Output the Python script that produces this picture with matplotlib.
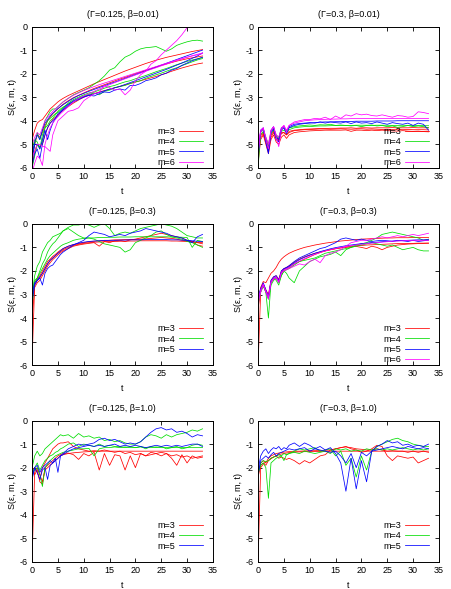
import matplotlib
matplotlib.use('Agg')
from matplotlib import pyplot as plt

plt.rcParams['font.family'] = ['Liberation Sans', 'DejaVu Sans']
plt.rcParams['font.size'] = 6.5
plt.rcParams['axes.unicode_minus'] = False

# common time grid
T = [0, 0.5, 1, 1.5, 2, 2.5, 3, 3.5, 4, 4.5, 5, 5.5, 6,
     7, 8, 9, 10, 11, 12, 13, 14, 15, 16, 17, 18, 19, 20,
     21, 22, 23, 24, 25, 26, 27, 28, 29, 30, 31, 32, 33]

titles = ['(\u0393=0.125, \u03b2=0.01)', '(\u0393=0.3, \u03b2=0.01)',
          '(\u0393=0.125, \u03b2=0.3)', '(\u0393=0.3, \u03b2=0.3)',
          '(\u0393=0.125, \u03b2=1.0)', '(\u0393=0.3, \u03b2=1.0)']

# panel 1: Gamma=0.125, beta=0.01
p1_m3 = [
    [-4.8, -4.4, -4.1, -4.0, -3.95, -3.8, -3.65, -3.5, -3.4, -3.3, -3.2, -3.12, -3.05,
     -2.93, -2.83, -2.73, -2.63, -2.53, -2.43, -2.34, -2.25, -2.16, -2.07, -1.98, -1.89, -1.81, -1.73,
     -1.65, -1.57, -1.5, -1.43, -1.37, -1.31, -1.26, -1.21, -1.16, -1.11, -1.06, -1.02, -0.98],
    [-5.9, -5.3, -5.0, -5.1, -5.0, -4.6, -4.3, -4.1, -3.95, -3.85, -3.75, -3.65, -3.55,
     -3.4, -3.25, -3.12, -3.0, -2.92, -2.85, -2.78, -2.72, -2.66, -2.6, -2.54, -2.48, -2.42, -2.36,
     -2.3, -2.24, -2.18, -2.12, -2.05, -1.98, -1.9, -1.83, -1.76, -1.7, -1.64, -1.59, -1.55],
    [-5.5, -5.0, -4.6, -4.7, -4.5, -4.2, -4.0, -3.85, -3.7, -3.6, -3.5, -3.4, -3.3,
     -3.15, -3.02, -2.92, -2.82, -2.72, -2.63, -2.55, -2.47, -2.39, -2.31, -2.23, -2.16, -2.08, -2.0,
     -1.93, -1.86, -1.79, -1.72, -1.65, -1.59, -1.53, -1.47, -1.42, -1.37, -1.33, -1.29, -1.25],
]
p1_m4 = [
    [-5.6, -5.0, -4.5, -4.8, -4.4, -4.0, -3.8, -3.6, -3.5, -3.5, -3.4, -3.3, -3.2,
     -3.05, -2.9, -2.8, -2.7, -2.6, -2.45, -2.3, -2.1, -1.85, -1.75, -1.5, -1.3, -1.2, -1.05,
     -0.95, -0.9, -0.88, -0.85, -0.95, -1.05, -0.95, -0.8, -0.72, -0.65, -0.6, -0.58, -0.62],
    [-6.0, -5.5, -5.0, -5.1, -4.9, -4.3, -4.0, -3.9, -3.8, -3.7, -3.65, -3.55, -3.45,
     -3.25, -3.1, -3.0, -2.9, -2.82, -2.78, -2.7, -2.62, -2.55, -2.5, -2.42, -2.35, -2.3, -2.22,
     -2.15, -2.08, -2.0, -1.92, -1.85, -1.78, -1.7, -1.62, -1.55, -1.48, -1.42, -1.37, -1.32],
    [-5.2, -4.8, -4.9, -5.2, -4.6, -4.3, -4.2, -4.0, -3.9, -3.75, -3.6, -3.5, -3.42,
     -3.3, -3.18, -3.05, -2.95, -2.88, -2.82, -2.9, -2.75, -2.7, -2.6, -2.55, -2.5, -2.42, -2.35,
     -2.3, -2.2, -2.12, -2.05, -1.98, -1.9, -1.82, -1.75, -1.66, -1.58, -1.5, -1.42, -1.36],
]
p1_m5 = [
    [-5.7, -5.0, -5.0, -5.2, -4.8, -4.4, -4.8, -4.4, -4.1, -3.9, -3.8, -3.65, -3.55,
     -3.35, -3.2, -3.1, -3.0, -2.92, -2.86, -2.8, -2.73, -2.66, -2.6, -2.54, -2.46, -2.38, -2.3,
     -2.22, -2.14, -2.06, -1.98, -1.9, -1.82, -1.73, -1.64, -1.55, -1.45, -1.35, -1.25, -1.12],
    [-5.9, -5.4, -5.2, -5.6, -5.0, -4.6, -4.3, -4.1, -4.0, -3.9, -3.7, -3.6, -3.5,
     -3.3, -3.15, -3.05, -2.97, -2.92, -2.95, -2.85, -2.78, -2.8, -2.7, -2.65, -2.7, -2.5, -2.5,
     -2.42, -2.3, -2.25, -2.18, -2.05, -1.98, -1.85, -1.78, -1.65, -1.55, -1.45, -1.38, -1.3],
    [-5.4, -4.9, -4.6, -4.8, -4.4, -4.1, -3.95, -3.8, -3.68, -3.58, -3.48, -3.4, -3.32,
     -3.18, -3.04, -2.93, -2.84, -2.75, -2.67, -2.59, -2.51, -2.43, -2.36, -2.28, -2.2, -2.12, -2.04,
     -1.96, -1.88, -1.8, -1.72, -1.64, -1.56, -1.48, -1.4, -1.32, -1.24, -1.16, -1.08, -1.0],
]
p1_m6 = [
    [-5.5, -5.3, -5.0, -5.0, -5.1, -5.1, -5.2, -5.3, -4.6, -4.3, -4.0, -3.9, -3.8,
     -3.6, -3.55, -3.45, -3.15, -3.0, -2.85, -2.8, -2.5, -2.6, -2.7, -2.65, -2.9, -2.7, -2.3,
     -2.05, -1.9, -1.6, -1.45, -1.2, -1.0, -0.8, -0.6, -0.35, -0.05, 0.2, 0.4, 0.6],
    [-6.2, -5.8, -5.5, -5.6, -5.9, -5.0, -4.6, -4.3, -4.1, -3.95, -3.82, -3.7, -3.6,
     -3.4, -3.2, -3.05, -2.95, -2.85, -2.75, -2.65, -2.56, -2.47, -2.38, -2.3, -2.22, -2.14, -2.06,
     -1.98, -1.9, -1.82, -1.75, -1.67, -1.6, -1.52, -1.45, -1.38, -1.31, -1.25, -1.2, -1.15],
    [-5.0, -4.7, -4.5, -4.6, -4.3, -4.0, -3.85, -3.72, -3.6, -3.5, -3.4, -3.3, -3.2,
     -3.05, -2.92, -2.82, -2.72, -2.63, -2.55, -2.47, -2.4, -2.33, -2.26, -2.19, -2.12, -2.05, -1.98,
     -1.91, -1.84, -1.77, -1.7, -1.63, -1.56, -1.49, -1.42, -1.36, -1.3, -1.24, -1.18, -1.12],
]

# panel 2: Gamma=0.3, beta=0.01
p2_m3 = [
    [-5.3, -4.6, -4.5, -4.8, -5.1, -4.6, -4.45, -4.7, -4.8, -4.5, -4.5, -4.6, -4.45,
     -4.4, -4.38, -4.36, -4.35, -4.34, -4.33, -4.33, -4.32, -4.32, -4.31, -4.31, -4.3, -4.32, -4.3,
     -4.3, -4.31, -4.3, -4.3, -4.3, -4.29, -4.3, -4.3, -4.3, -4.29, -4.3, -4.3, -4.3],
    [-5.8, -4.8, -4.6, -5.0, -5.4, -4.8, -4.6, -4.9, -5.0, -4.7, -4.6, -4.75, -4.6,
     -4.5, -4.47, -4.45, -4.43, -4.42, -4.41, -4.4, -4.4, -4.4, -4.4, -4.39, -4.45, -4.4, -4.4,
     -4.42, -4.4, -4.42, -4.4, -4.42, -4.43, -4.44, -4.42, -4.44, -4.45, -4.44, -4.46, -4.47],
    [-5.5, -4.7, -4.55, -4.9, -5.2, -4.7, -4.5, -4.75, -4.85, -4.55, -4.5, -4.6, -4.5,
     -4.42, -4.4, -4.38, -4.37, -4.36, -4.35, -4.35, -4.36, -4.35, -4.34, -4.35, -4.36, -4.35, -4.34,
     -4.36, -4.35, -4.36, -4.37, -4.36, -4.37, -4.36, -4.38, -4.37, -4.38, -4.38, -4.38, -4.39],
]
p2_m4 = [
    [-6.0, -4.5, -4.35, -4.7, -5.0, -4.45, -4.3, -4.6, -4.7, -4.35, -4.3, -4.45, -4.3,
     -4.25, -4.22, -4.2, -4.18, -4.2, -4.17, -4.18, -4.15, -4.2, -4.18, -4.2, -4.22, -4.2, -4.25,
     -4.2, -4.18, -4.22, -4.2, -4.25, -4.22, -4.28, -4.25, -4.2, -4.25, -4.22, -4.25, -4.3],
    [-5.4, -4.6, -4.45, -4.8, -5.1, -4.55, -4.4, -4.65, -4.75, -4.45, -4.4, -4.5, -4.38,
     -4.3, -4.27, -4.25, -4.25, -4.23, -4.22, -4.22, -4.21, -4.2, -4.2, -4.2, -4.2, -4.19, -4.19,
     -4.19, -4.2, -4.19, -4.19, -4.19, -4.2, -4.2, -4.19, -4.2, -4.2, -4.2, -4.21, -4.21],
]
p2_m5 = [
    [-5.6, -4.4, -4.3, -4.8, -5.3, -4.4, -4.25, -4.7, -4.8, -4.3, -4.25, -4.5, -4.25,
     -4.15, -4.12, -4.1, -4.08, -4.1, -4.05, -4.1, -4.05, -4.08, -4.1, -4.05, -4.12, -4.05, -4.1,
     -4.08, -4.12, -4.05, -4.1, -4.15, -4.08, -4.12, -4.15, -4.1, -4.2, -4.1, -4.15, -4.4],
    [-5.2, -4.45, -4.35, -4.9, -5.4, -4.5, -4.35, -4.8, -4.9, -4.4, -4.3, -4.55, -4.3,
     -4.2, -4.15, -4.12, -4.1, -4.08, -4.06, -4.05, -4.05, -4.04, -4.04, -4.03, -4.03, -4.02, -4.02,
     -4.02, -4.02, -4.01, -4.01, -4.01, -4.01, -4.0, -4.0, -4.0, -4.0, -4.0, -4.0, -4.0],
]
p2_m6 = [
    [-5.4, -4.5, -4.3, -4.8, -5.2, -4.45, -4.25, -4.7, -5.1, -4.4, -4.2, -4.5, -4.2,
     -4.05, -4.0, -3.95, -3.95, -3.9, -3.92, -3.85, -3.95, -3.8, -3.9, -3.75, -3.8, -3.7, -3.75,
     -3.72, -3.78, -3.8, -3.75, -3.8, -3.85, -3.78, -3.8, -3.85, -3.82, -3.62, -3.65, -3.7],
    [-5.0, -4.4, -4.3, -4.7, -5.0, -4.4, -4.25, -4.6, -4.7, -4.3, -4.2, -4.4, -4.2,
     -4.1, -4.05, -4.0, -3.98, -3.96, -3.95, -3.94, -3.93, -3.93, -3.92, -3.92, -3.91, -3.91, -3.91,
     -3.9, -3.9, -3.9, -3.9, -3.9, -3.9, -3.9, -3.9, -3.9, -3.9, -3.9, -3.9, -3.9],
]

# panel 3: Gamma=0.125, beta=0.3
p3_m3 = [
    [-5.8, -2.6, -2.4, -2.3, -2.1, -1.9, -1.7, -1.55, -1.45, -1.35, -1.25, -1.18, -1.1,
     -1.0, -0.92, -0.87, -0.83, -0.8, -0.78, -0.77, -0.76, -0.75, -0.75, -0.74, -0.74, -0.73, -0.73,
     -0.72, -0.72, -0.72, -0.72, -0.72, -0.72, -0.73, -0.73, -0.74, -0.75, -0.77, -0.79, -0.8],
    [-4.0, -2.7, -2.5, -2.4, -2.2, -2.0, -1.8, -1.65, -1.52, -1.42, -1.32, -1.23, -1.15,
     -1.05, -0.95, -0.9, -0.86, -0.83, -0.8, -0.95, -0.75, -0.8, -0.72, -0.7, -0.75, -0.68, -0.65,
     -0.6, -0.55, -0.5, -0.45, -0.4, -0.45, -0.5, -0.55, -0.6, -0.7, -0.75, -0.9, -0.95],
    [-3.2, -2.5, -2.35, -2.2, -2.0, -1.8, -1.6, -1.5, -1.38, -1.3, -1.2, -1.12, -1.05,
     -0.95, -0.88, -0.84, -0.8, -0.76, -0.74, -0.72, -0.7, -0.7, -0.68, -0.68, -0.67, -0.66, -0.66,
     -0.65, -0.64, -0.62, -0.6, -0.58, -0.6, -0.62, -0.65, -0.7, -0.72, -0.75, -0.8, -0.85],
]
p3_m4 = [
    [-3.0, -2.2, -1.8, -1.6, -1.2, -1.0, -0.8, -0.7, -0.55, -0.5, -0.45, -0.4, -0.3,
     -0.15, -0.05, -0.05, 0.0, -0.05, -0.15, -0.05, 0.0, -0.2, -0.5, -0.4, -0.35, -0.4, -0.3,
     -0.2, -0.15, -0.1, -0.05, 0.0, -0.05, -0.1, -0.2, -0.35, -0.5, -0.55, -0.6, -0.6],
    [-2.8, -2.5, -2.3, -2.0, -1.7, -1.5, -1.2, -1.0, -0.85, -0.75, -0.6, -0.45, -0.3,
     -0.2, -0.35, -0.5, -0.6, -0.6, -0.65, -0.75, -0.85, -0.9, -0.95, -1.0, -1.2, -1.1, -0.8,
     -0.7, -0.6, -0.5, -0.35, -0.3, -0.45, -0.55, -0.6, -0.65, -0.75, -0.8, -0.9, -1.0],
    [-3.5, -2.4, -2.3, -2.1, -1.9, -1.7, -1.5, -1.35, -1.25, -1.15, -1.05, -0.95, -0.88,
     -0.8, -0.7, -0.65, -0.62, -0.6, -0.6, -0.58, -0.58, -0.57, -0.57, -0.56, -0.56, -0.56, -0.55,
     -0.55, -0.55, -0.55, -0.55, -0.55, -0.55, -0.56, -0.56, -0.57, -0.58, -1.0, -0.7, -0.75],
]
p3_m5 = [
    [-3.0, -2.5, -2.4, -2.3, -2.6, -2.1, -1.9, -1.8, -1.75, -1.6, -1.45, -1.3, -1.2,
     -1.05, -0.9, -0.8, -0.7, -0.5, -0.35, -0.4, -0.45, -0.55, -0.5, -0.45, -0.5, -0.4, -0.35,
     -0.3, -0.2, -0.25, -0.3, -0.35, -0.4, -0.5, -0.55, -0.6, -0.7, -0.8, -0.55, -0.45],
    [-3.3, -2.6, -2.4, -2.25, -2.1, -1.9, -1.7, -1.55, -1.45, -1.35, -1.25, -1.15, -1.05,
     -0.95, -0.88, -0.82, -0.78, -0.75, -0.73, -0.72, -0.71, -0.7, -0.7, -0.69, -0.69, -0.68, -0.68,
     -0.68, -0.67, -0.67, -0.67, -0.67, -0.67, -0.68, -0.68, -0.69, -0.7, -0.72, -0.74, -0.76],
]

# panel 4: Gamma=0.3, beta=0.3
p4_m3 = [
    [-3.3, -2.7, -2.45, -2.5, -2.3, -2.1, -2.0, -1.85, -1.65, -1.5, -1.4, -1.32, -1.25,
     -1.15, -1.07, -1.0, -0.95, -0.9, -0.86, -0.82, -0.79, -0.76, -0.73, -0.71, -0.69, -0.67, -0.65,
     -0.64, -0.63, -0.62, -0.61, -0.6, -0.6, -0.59, -0.59, -0.59, -0.58, -0.58, -0.58, -0.58],
    [-6.0, -2.9, -2.6, -2.9, -3.1, -2.5, -2.35, -2.3, -2.45, -2.1, -1.95, -1.9, -1.85,
     -1.7, -1.6, -1.5, -1.4, -1.3, -1.22, -1.15, -1.1, -1.05, -1.02, -1.0, -0.98, -0.96, -1.0,
     -1.05, -0.95, -1.0, -1.1, -1.0, -0.95, -0.9, -0.88, -0.86, -0.85, -0.84, -0.83, -0.82],
    [-3.6, -2.85, -2.55, -2.8, -3.0, -2.4, -2.25, -2.2, -2.35, -2.0, -1.9, -1.85, -1.78,
     -1.62, -1.5, -1.4, -1.32, -1.25, -1.2, -1.15, -1.1, -1.06, -1.02, -0.98, -0.95, -0.93, -0.92,
     -0.9, -0.89, -0.88, -0.87, -0.86, -0.85, -0.84, -0.84, -0.83, -0.83, -0.82, -0.82, -0.82],
]
p4_m4 = [
    [-3.2, -2.8, -2.6, -2.9, -4.0, -2.5, -2.3, -2.4, -2.6, -2.2, -2.0, -2.1, -2.3,
     -2.5, -2.0, -1.8, -1.6, -1.5, -1.4, -1.35, -1.3, -1.2, -1.35, -1.1, -1.0, -0.9, -0.85,
     -0.8, -0.7, -0.6, -0.45, -0.4, -0.35, -0.4, -0.45, -0.5, -0.55, -0.6, -0.7, -0.65],
    [-3.4, -2.9, -2.65, -2.9, -3.2, -2.6, -2.4, -2.3, -2.5, -2.2, -2.0, -1.95, -1.9,
     -1.75, -1.6, -1.55, -1.5, -1.45, -1.35, -1.25, -1.2, -1.15, -1.1, -1.05, -1.0, -0.95, -0.9,
     -0.85, -0.8, -0.85, -0.9, -0.95, -0.9, -1.0, -1.1, -1.05, -1.0, -1.1, -1.15, -1.15],
]
p4_m5 = [
    [-3.1, -2.75, -2.5, -2.8, -3.1, -2.4, -2.25, -2.2, -2.4, -2.0, -1.9, -1.85, -1.78,
     -1.6, -1.45, -1.35, -1.25, -1.15, -1.05, -1.0, -0.9, -0.8, -0.65, -0.6, -0.65, -0.7, -0.65,
     -0.7, -0.75, -0.72, -0.7, -0.72, -0.75, -0.7, -0.72, -0.75, -0.7, -0.75, -0.72, -0.7],
    [-3.3, -2.8, -2.55, -2.85, -3.15, -2.45, -2.3, -2.25, -2.45, -2.05, -1.92, -1.88, -1.82,
     -1.66, -1.52, -1.42, -1.33, -1.25, -1.18, -1.12, -1.06, -1.01, -0.97, -0.93, -0.9, -0.87, -0.84,
     -0.82, -0.8, -0.78, -0.76, -0.74, -0.73, -0.72, -0.71, -0.7, -0.69, -0.68, -0.68, -0.67],
]
p4_m6 = [
    [-3.4, -2.9, -2.6, -2.9, -3.2, -2.5, -2.35, -2.3, -2.5, -2.1, -2.0, -1.95, -1.9,
     -1.8, -1.7, -1.75, -1.6, -1.5, -1.65, -1.35, -1.25, -1.2, -1.1, -0.95, -0.8, -0.75, -0.7,
     -0.7, -0.65, -0.6, -0.55, -0.6, -0.55, -0.5, -0.55, -0.5, -0.45, -0.5, -0.45, -0.4],
    [-3.2, -2.8, -2.55, -2.85, -3.1, -2.45, -2.3, -2.25, -2.45, -2.05, -1.95, -1.9, -1.85,
     -1.7, -1.58, -1.48, -1.38, -1.3, -1.22, -1.15, -1.1, -1.05, -1.0, -0.96, -0.93, -0.9, -0.87,
     -0.84, -0.82, -0.8, -0.78, -0.76, -0.74, -0.73, -0.72, -0.71, -0.7, -0.7, -0.7, -0.7],
]

# panel 5: Gamma=0.125, beta=1.0
p5_m3 = [
    [-5.9, -2.2, -2.0, -2.3, -2.6, -2.1, -2.0, -1.9, -1.8, -1.7, -1.6, -1.5, -1.45,
     -1.4, -1.37, -1.35, -1.33, -1.32, -1.31, -1.3, -1.3, -1.3, -1.3, -1.3, -1.3, -1.3, -1.3,
     -1.3, -1.3, -1.3, -1.3, -1.3, -1.3, -1.3, -1.3, -1.3, -1.3, -1.3, -1.3, -1.3],
    [-2.0, -2.3, -2.1, -2.6, -2.7, -2.0, -1.9, -1.8, -1.7, -1.6, -1.5, -1.45, -1.4,
     -1.38, -1.45, -1.65, -1.4, -1.5, -1.35, -2.1, -1.4, -1.9, -1.45, -1.5, -2.1, -1.5, -2.0,
     -1.4, -1.5, -1.35, -1.4, -1.5, -1.4, -1.6, -1.9, -1.45, -1.8, -1.5, -1.6, -1.55],
    [-2.1, -2.0, -2.2, -2.5, -2.0, -1.8, -1.6, -1.4, -1.2, -1.1, -1.0, -0.95, -0.95,
     -0.9, -1.1, -1.2, -1.25, -1.3, -1.28, -1.3, -1.25, -1.3, -1.35, -1.3, -1.4, -1.35, -1.45,
     -1.4, -1.5, -1.45, -1.4, -1.35, -1.4, -1.5, -1.45, -1.55, -1.5, -1.6, -1.55, -1.5],
]
p5_m4 = [
    [-2.0, -1.5, -1.3, -1.5, -1.4, -1.2, -1.1, -1.0, -0.9, -0.8, -0.7, -0.6, -0.65,
     -0.6, -0.75, -0.55, -0.7, -0.65, -0.75, -0.7, -0.85, -0.8, -0.9, -0.85, -0.95, -1.0, -1.0,
     -0.9, -0.7, -0.6, -0.65, -0.75, -0.6, -0.7, -0.6, -0.55, -0.5, -0.4, -0.45, -0.35],
    [-2.2, -2.0, -1.8, -2.1, -1.9, -1.7, -1.6, -1.5, -1.45, -1.35, -1.3, -1.2, -1.15,
     -1.0, -0.95, -1.1, -1.0, -1.05, -1.1, -1.0, -1.1, -1.05, -1.1, -1.1, -1.15, -1.1, -1.15,
     -1.1, -1.2, -1.1, -1.15, -1.1, -1.2, -1.15, -1.1, -1.2, -1.15, -1.05, -1.0, -1.05],
    [-2.3, -2.1, -2.0, -2.3, -2.8, -2.0, -1.85, -1.7, -1.6, -1.5, -1.45, -1.4, -1.35,
     -1.3, -1.25, -1.2, -1.2, -1.18, -1.5, -1.2, -1.15, -1.15, -1.12, -1.15, -1.12, -1.15, -1.15,
     -1.12, -1.15, -1.15, -1.12, -1.15, -1.15, -1.15, -1.15, -1.15, -1.15, -1.15, -1.15, -1.15],
]
p5_m5 = [
    [-2.5, -2.0, -1.9, -2.2, -2.0, -1.9, -1.8, -1.7, -1.8, -1.6, -2.2, -1.5, -1.4,
     -1.2, -1.1, -1.0, -1.05, -1.0, -0.95, -0.8, -0.75, -0.85, -0.8, -0.9, -1.0, -0.95, -1.0,
     -0.9, -0.7, -0.5, -0.35, -0.3, -0.4, -0.35, -0.5, -0.45, -0.55, -0.7, -0.6, -0.65],
    [-2.4, -2.0, -2.2, -2.5, -2.1, -2.0, -2.5, -1.9, -1.8, -1.7, -1.6, -1.5, -1.45,
     -1.3, -1.2, -1.15, -1.1, -1.05, -1.1, -1.05, -1.1, -1.05, -1.0, -1.1, -1.05, -1.1, -1.05,
     -1.1, -1.15, -1.1, -1.05, -1.1, -1.05, -1.1, -1.05, -1.1, -1.05, -1.0, -1.0, -1.1],
]

# panel 6: Gamma=0.3, beta=1.0
p6_m3 = [
    [-6.0, -2.0, -1.85, -1.75, -1.7, -1.62, -1.55, -1.5, -1.45, -1.42, -1.4, -1.38, -1.36,
     -1.34, -1.33, -1.32, -1.32, -1.31, -1.31, -1.3, -1.3, -1.3, -1.3, -1.3, -1.3, -1.3, -1.3,
     -1.3, -1.3, -1.3, -1.3, -1.3, -1.3, -1.3, -1.3, -1.3, -1.3, -1.3, -1.3, -1.3],
    [-2.4, -1.9, -1.8, -1.9, -1.7, -1.6, -1.55, -1.5, -1.6, -1.55, -1.6, -1.65, -1.6,
     -1.7, -1.85, -1.7, -1.8, -1.65, -1.5, -1.45, -1.25, -1.2, -1.15, -1.1, -1.2, -1.25, -1.35,
     -1.3, -1.2, -1.05, -1.1, -1.5, -1.7, -1.5, -1.55, -1.6, -1.55, -1.8, -1.7, -1.6],
    [-2.2, -1.8, -1.7, -1.8, -1.6, -1.5, -1.45, -1.4, -1.38, -1.36, -1.34, -1.33, -1.32,
     -1.3, -1.3, -1.29, -1.28, -1.28, -1.27, -1.26, -1.25, -1.2, -1.15, -1.12, -1.15, -1.2, -1.22,
     -1.25, -1.25, -1.2, -1.25, -1.3, -1.28, -1.3, -1.3, -1.35, -1.3, -1.35, -1.3, -1.35],
]
p6_m4 = [
    [-2.2, -1.9, -1.8, -2.0, -3.3, -1.8, -1.7, -1.6, -1.55, -1.5, -1.7, -1.45, -1.4,
     -1.3, -1.2, -1.25, -1.2, -1.15, -1.3, -1.25, -1.2, -1.5, -1.3, -1.9, -1.6, -2.4, -1.5,
     -2.1, -1.3, -1.1, -1.0, -0.9, -0.8, -0.75, -0.85, -0.9, -1.0, -1.05, -1.1, -1.1],
    [-2.3, -1.8, -1.7, -1.75, -1.7, -1.6, -1.55, -1.5, -1.45, -1.5, -1.4, -1.45, -1.4,
     -1.35, -1.4, -1.3, -1.35, -1.4, -1.35, -1.3, -1.4, -1.2, -1.25, -1.2, -1.3, -1.25, -1.3,
     -1.2, -1.25, -1.2, -1.25, -1.2, -1.25, -1.2, -1.15, -1.2, -1.25, -1.2, -1.25, -1.2],
]
p6_m5 = [
    [-2.1, -1.5, -1.3, -1.2, -1.4, -1.25, -1.15, -1.2, -1.1, -1.25, -1.15, -1.2, -1.05,
     -0.95, -1.1, -0.95, -1.05, -1.2, -1.1, -1.25, -1.15, -1.4, -1.8, -3.0, -1.6, -2.9, -1.7,
     -2.6, -1.3, -1.1, -1.0, -0.85, -0.95, -0.9, -1.05, -1.0, -1.1, -1.05, -1.1, -1.0],
    [-2.3, -1.7, -1.6, -1.5, -1.6, -1.45, -1.35, -1.5, -1.4, -1.35, -1.3, -1.25, -1.2,
     -1.25, -1.2, -1.15, -1.3, -1.2, -1.25, -1.3, -1.35, -1.3, -1.5, -1.8, -1.4, -2.0, -1.35,
     -1.5, -1.3, -1.25, -1.2, -1.15, -1.1, -1.15, -1.2, -1.1, -1.15, -1.2, -1.15, -1.2],
]

m_labels = ['m=3', 'm=4', 'm=5', 'm=6']
colors = ['#ff0000', '#00dd00', '#0000ff', '#ff00ff']

panels = [
    [p1_m3, p1_m4, p1_m5, p1_m6],
    [p2_m3, p2_m4, p2_m5, p2_m6],
    [p3_m3, p3_m4, p3_m5],
    [p4_m3, p4_m4, p4_m5, p4_m6],
    [p5_m3, p5_m4, p5_m5],
    [p6_m3, p6_m4, p6_m5],
]

fig = plt.figure(figsize=(4.52, 5.89), dpi=100)
lefts = [0.071, 0.571]
bottoms = [0.715, 0.380, 0.046]
w, h = 0.400, 0.240

for i, groups in enumerate(panels):
    ax = fig.add_axes([lefts[i % 2], bottoms[i // 2], w, h])
    for j, curves in enumerate(groups):
        for k, y in enumerate(curves):
            ax.plot(T, y, color=colors[j], lw=0.55,
                    label=m_labels[j] if k == 0 else None)
    ax.set_xlim(0, 35)
    ax.set_ylim(-6, 0)
    ax.set_xticks(range(0, 36, 5))
    ax.set_yticks(range(-6, 1))
    ax.tick_params(direction='in', top=True, right=True, length=3, width=0.6, pad=3)
    for s in ax.spines.values():
        s.set_linewidth(0.7)
    ax.set_title(titles[i], fontsize=6.5, pad=7)
    ax.set_xlabel('t', labelpad=4)
    ax.set_ylabel('S(\u03b5, m, t)', labelpad=2)
    # gnuplot-style key: text then sample, anchored at a fixed top position
    ax.legend(loc='upper right', bbox_to_anchor=(0.945, 0.29), frameon=False,
              markerfirst=False, handlelength=2.6, handletextpad=0.5,
              labelspacing=0.15, fontsize=6.5, borderaxespad=0, borderpad=0)

fig.savefig('out.png', dpi=100)
